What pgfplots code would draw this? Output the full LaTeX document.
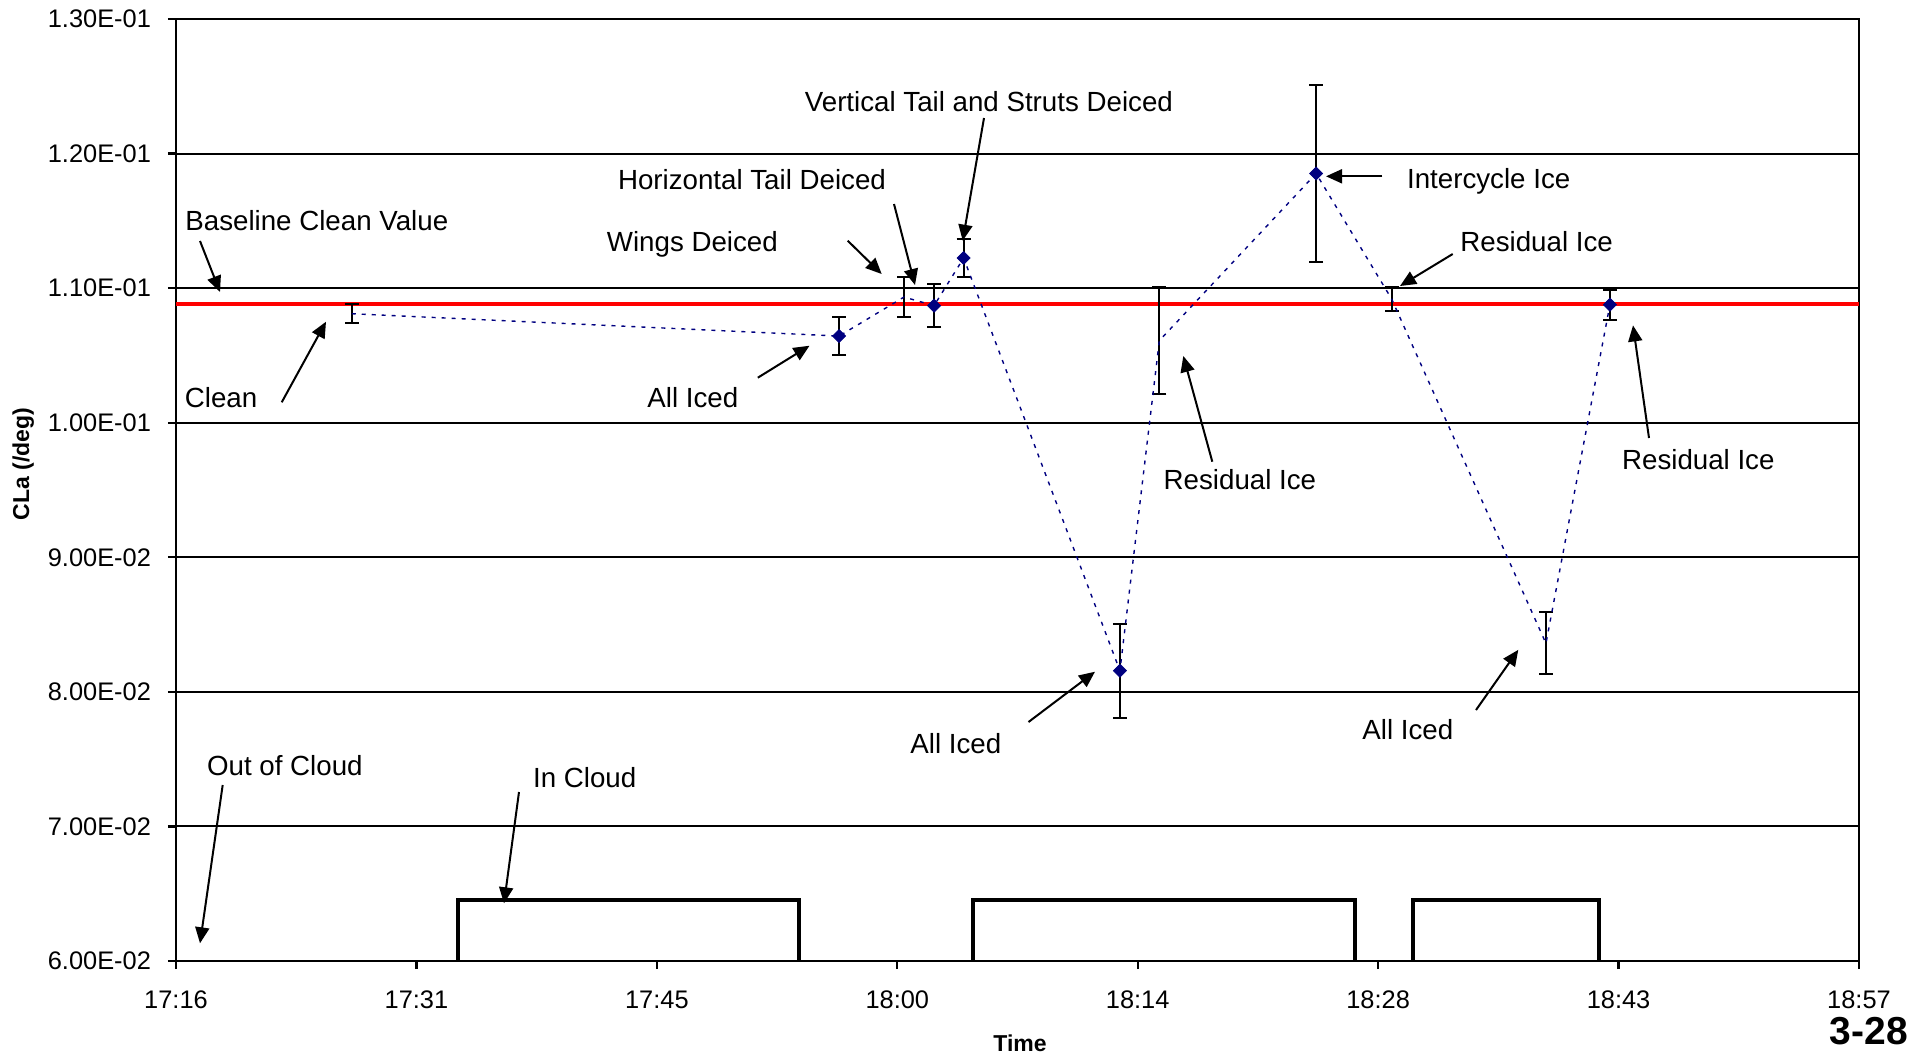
\documentclass[border=0pt]{standalone}
\usepackage{fontspec}
\setmainfont{Liberation Sans}
\usepackage{pgfplots}
\pgfplotsset{compat=1.18}
\usetikzlibrary{arrows.meta}
\definecolor{navy}{RGB}{0,0,128}
\begin{document}
\begin{tikzpicture}
\begin{scope}[x=0.5pt,y=-0.5pt]
\path[use as bounding box] (0,0) rectangle (1929,1056);
\end{scope}
\begin{axis}[
  at={(88pt,-480.5pt)}, anchor=south west,
  scale only axis, width=841.5pt, height=471pt,
  xmin=0, xmax=7, ymin=0.06, ymax=0.13,
  xtick={0,1,2,3,4,5,6,7},
  xticklabels={17:16,17:31,17:45,18:00,18:14,18:28,18:43,18:57},
  ytick={0.06,0.07,0.08,0.09,0.10,0.11,0.12,0.13},
  yticklabels={6.00E-02,7.00E-02,8.00E-02,9.00E-02,1.00E-01,1.10E-01,1.20E-01,1.30E-01},
  ymajorgrids, major grid style={black, line width=1pt},
  axis line style={black, line width=1.1pt},
  tick style={black, line width=1.1pt},
  major tick length=4pt,
  tick align=outside,
  xtick pos=bottom, ytick pos=left,
  ticklabel style={font=\fontsize{12.7}{15}\selectfont},
  xticklabel style={yshift=-7.5pt},
  yticklabel style={xshift=-5pt},
  clip=false,
]
% baseline clean value
\addplot[red, line width=2pt] coordinates {(0,0.1088) (7,0.1088)};
% in-cloud intervals
\addplot[black, line width=2pt] coordinates {(1.174,0.06) (1.174,0.0645) (2.590,0.0645) (2.590,0.06)};
\addplot[black, line width=2pt] coordinates {(3.313,0.06) (3.313,0.0645) (4.904,0.0645) (4.904,0.06)};
\addplot[black, line width=2pt] coordinates {(5.144,0.06) (5.144,0.0645) (5.918,0.0645) (5.918,0.06)};
% error bars
\addplot[draw=none, mark=none,
  error bars/.cd, y dir=both, y explicit,
  error bar style={black, line width=1pt},
  error mark options={black, line width=1pt, mark size=3.5pt, rotate=90}]
  coordinates {
  (0.731,0.1081) +- (0,0.0007)
  (2.758,0.10644) +- (0,0.0014)
  (3.028,0.10934) +- (0,0.0015)
  (3.153,0.1087) +- (0,0.0016)
  (3.276,0.11224) +- (0,0.0014)
  (3.926,0.08157) +- (0,0.0035)
  (4.090,0.1061) +- (0,0.0040)
  (4.742,0.11852) +- (0,0.0066)
  (5.056,0.1092) +- (0,0.0009)
  (5.698,0.0836) +- (0,0.0023)
  (5.964,0.10877) +- (0,0.0011)
  };
% CLa series line
\addplot[navy, line width=0.7pt, dash pattern=on 2pt off 3pt, mark=none] coordinates {
  (0.731,0.1081) (2.758,0.10644) (3.028,0.10934) (3.153,0.1087) (3.276,0.11224)
  (3.926,0.08157) (4.090,0.1061) (4.742,0.11852) (5.056,0.1092) (5.698,0.0836) (5.964,0.10877)
  };
% markers
\addplot[only marks, navy, mark=square*, mark size=2.3pt, mark options={rotate=45, fill=navy, draw=navy}] coordinates {
  (2.758,0.10644) (3.153,0.1087) (3.276,0.11224) (3.926,0.08157) (4.742,0.11852) (5.964,0.10877)
  };
\end{axis}
\begin{scope}[x=0.5pt,y=-0.5pt, every node/.style={inner sep=0pt, font=\fontsize{13.85}{16}\selectfont}]
\node[anchor=base west] at (185,230.5) {Baseline Clean Value};
\node[anchor=base west] at (184.5,407) {Clean};
\node[anchor=base west] at (647,407) {All Iced};
\node[anchor=base west] at (606.5,251) {Wings Deiced};
\node[anchor=base west] at (617.6,189.6) {Horizontal Tail Deiced};
\node[anchor=base west] at (804.5,111) {Vertical Tail and Struts Deiced};
\node[anchor=base west] at (1406.7,188.6) {Intercycle Ice};
\node[anchor=base west] at (1460,251.7) {Residual Ice};
\node[anchor=base west] at (1163.3,489.3) {Residual Ice};
\node[anchor=base west] at (1621.7,469.2) {Residual Ice};
\node[anchor=base west] at (910,753) {All Iced};
\node[anchor=base west] at (1362,739.5) {All Iced};
\node[anchor=base west] at (206.7,775) {Out of Cloud};
\node[anchor=base west] at (532.7,787.5) {In Cloud};
\begin{scope}[line width=1pt, -{Triangle[length=8pt,width=7pt]}]
\draw (200,241) -- (220,292);
\draw (281.7,402.3) -- (326,321.7);
\draw (757.8,377.7) -- (809.5,345.7);
\draw (847.7,240.7) -- (881.7,274);
\draw (894,204) -- (915,285);
\draw (984,118) -- (962.7,240.7);
\draw (1382.3,176.3) -- (1326,176.3);
\draw (1452.7,254) -- (1400,286);
\draw (1212.3,461.7) -- (1183.3,356);
\draw (1649,438) -- (1633,325.4);
\draw (1028.5,722) -- (1095,671.7);
\draw (1476,710) -- (1518.3,649.8);
\draw (222.7,785) -- (200,943.3);
\draw (519,792) -- (504,903.3);
\end{scope}
\node[rotate=90, font=\bfseries\fontsize{11.5}{13}\selectfont] at (23.3,464) {CLa (/deg)};
\node[font=\bfseries\fontsize{11.5}{13}\selectfont] at (1020,1043) {Time};
\node[font=\bfseries\fontsize{19.5}{22}\selectfont] at (1869,1031) {3-28};
\end{scope}
\end{tikzpicture}
\end{document}
